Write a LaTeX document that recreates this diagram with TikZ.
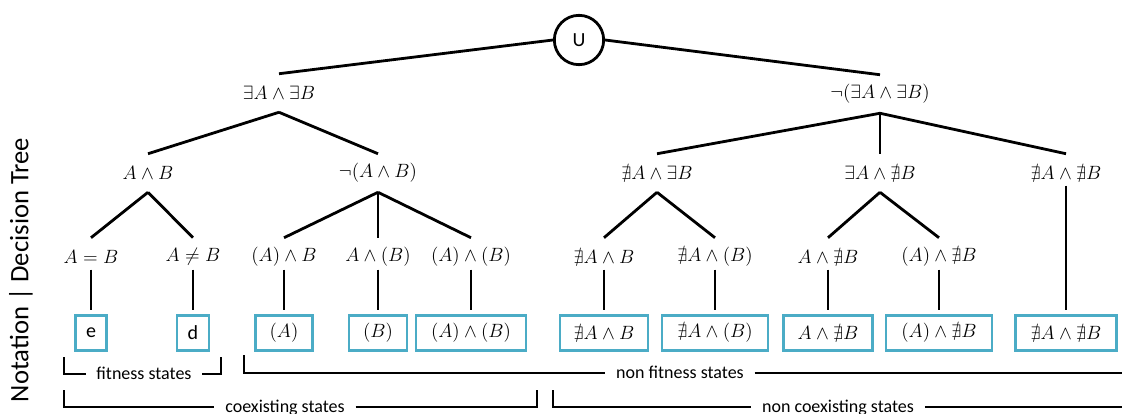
\documentclass[tikz,border=0pt]{standalone}
\usepackage{amssymb}
\usepackage{fontspec}
\newfontfamily\carlito{Carlito}
\definecolor{boxblue}{RGB}{75,172,198}
\begin{document}
\begin{tikzpicture}[x=0.75pt,y=-0.75pt,
        tree/.style={line width=2.1pt},
        drop/.style={tree,shorten <=-5pt,shorten >=3pt},
        cond/.style={inner sep=0pt,minimum height=28.5pt,font=\fontsize{13.5}{16}\selectfont},
        state/.style={draw=boxblue,line width=2.2pt,inner sep=0pt,minimum height=26.25pt,font=\fontsize{13.5}{16}\selectfont},
        sans/.style={font=\carlito\fontsize{15}{18}\selectfont},
        note/.style={inner xsep=8pt,inner ysep=0pt,text height=7.5pt,text depth=0pt,font=\carlito\fontsize{13.5}{16}\selectfont}]
        \useasboundingbox (0,0) rectangle (1122,414);
        %% Title
        \node[rotate=90,font=\carlito\fontsize{20}{24}\selectfont] (title) at (21,270) {Notation | Decision Tree};
        %% Root
        \node[draw,circle,line width=2.1pt,minimum size=37pt,inner sep=0pt,sans] (u) at (579,40) {U};
        %% Conditions
        \node[cond] (eAeB) at (279,93) {$\exists A\wedge\exists B$};
        \node[cond] (nEAEB) at (880,94) {$\neg(\exists A\wedge\exists B)$};
        \foreach \n/\x/\t in {AB/148/$A\wedge B$, nAB/378/$\neg(A\wedge B)$, xAEB/657/$\nexists A\wedge\exists B$,
            EAxB/880/$\exists A\wedge\nexists B$, xAxB/1066/$\nexists A\wedge\nexists B$} {
            \node[cond] (\n) at (\x,173) {\t};
        }
        \foreach \n/\x/\t in {AeqB/91/$A=B$, AneB/193/$A\neq B$, pAB/284/$(A)\wedge B$, ApB/378/$A\wedge(B)$,
            pApB/471/$(A)\wedge(B)$, xAB/604/$\nexists A\wedge B$, xApB/715/$\nexists A\wedge(B)$,
            AxB/828/$A\wedge\nexists B$, pAxB/939/$(A)\wedge\nexists B$} {
            \node[cond] (\n) at (\x,257) {\t};
        }
        %% States
        \node[state,sans,minimum width=23.25pt] (bE) at (91,333) {e};
        \node[state,sans,minimum width=24pt] (bD) at (193,333) {d};
        \foreach \n/\x/\w/\t in {bpA/284/42.75/$(A)$, bpB/378/43.5/$(B)$, bpApB/471/82.5/$(A)\wedge(B)$,
            bxAB/604/66/$\nexists A\wedge B$, bxApB/715/79.5/$\nexists A\wedge(B)$, bAxB/828/66.75/$A\wedge\nexists B$,
            bpAxB/939/79.5/$(A)\wedge\nexists B$, bxAxB/1066/75.75/$\nexists A\wedge\nexists B$} {
            \node[state,minimum width=\w pt] (\n) at (\x,333) {\t};
        }
        %% Branches
        \draw[tree] (u.west) -- (eAeB.north);
        \draw[tree] (u.east) -- (nEAEB.north);
        \foreach \c in {AB,nAB} \draw[tree] (eAeB.south) -- (\c.north);
        \foreach \c in {xAEB,EAxB,xAxB} \draw[tree] (nEAEB.south) -- (\c.north);
        \foreach \c in {AeqB,AneB} \draw[tree] (AB.south) -- (\c.north);
        \foreach \c in {pAB,ApB,pApB} \draw[tree] (nAB.south) -- (\c.north);
        \foreach \c in {xAB,xApB} \draw[tree] (xAEB.south) -- (\c.north);
        \foreach \c in {AxB,pAxB} \draw[tree] (EAxB.south) -- (\c.north);
        \foreach \a/\b in {AeqB/bE, AneB/bD, pAB/bpA, ApB/bpB, pApB/bpApB, xAB/bxAB, xApB/bxApB,
            AxB/bAxB, pAxB/bpAxB, xAxB/bxAxB} \draw[drop] (\a.south) -- (\b.north);
        %% Brackets
        \coordinate (fitL) at (64,357);
        \coordinate (fitR) at (221,357);
        \node[note] (fit) at (144,374) {fitness states};
        \draw[tree] (fitL) |- (fit.west);
        \draw[tree] (fit.east) -| (fitR);
        \coordinate (nfitL) at (244,355);
        \coordinate (nfitR) at (1122,373);
        \node[note] (nfit) at (680,373) {non fitness states};
        \draw[tree] (nfitL) |- (nfit.west);
        \draw[tree] (nfit.east) -- (nfitR);
        \coordinate (coexL) at (64,390);
        \coordinate (coexR) at (537,390);
        \node[note] (coex) at (285,407) {coexisting states};
        \draw[tree] (coexL) |- (coex.west);
        \draw[tree] (coex.east) -| (coexR);
        \coordinate (ncoexL) at (553,390);
        \coordinate (ncoexR) at (1122,407);
        \node[note] (ncoex) at (838,407) {non coexisting states};
        \draw[tree] (ncoexL) |- (ncoex.west);
        \draw[tree] (ncoex.east) -- (ncoexR);
    \end{tikzpicture}
\end{document}
